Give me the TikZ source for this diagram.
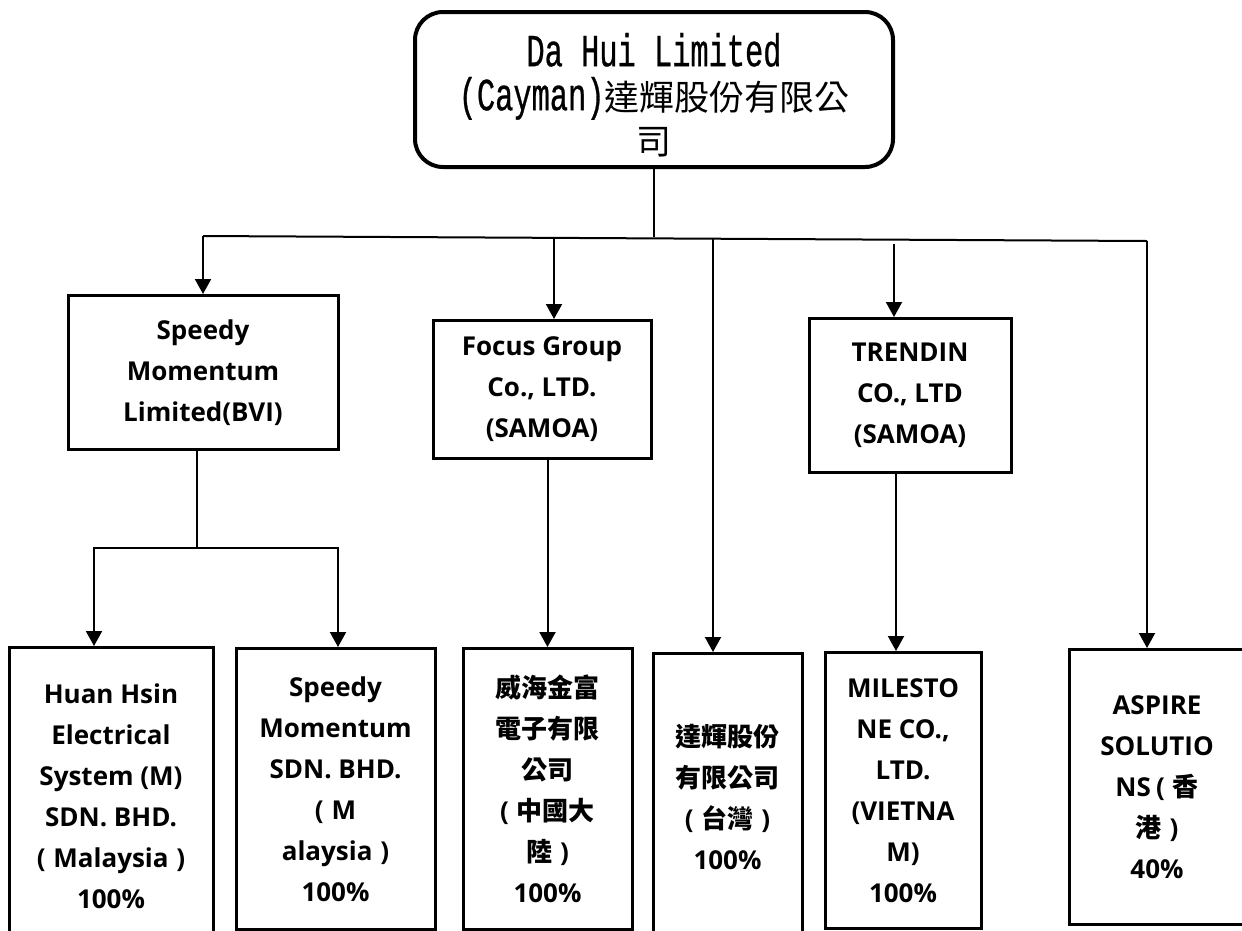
\documentclass[tikz,border=0pt]{standalone}
\usepackage{fontspec}
\usetikzlibrary{arrows.meta}
\newfontfamily\latinbold{Open Sans}
\newfontfamily\cjkfont{Noto Sans CJK TC}
\newfontfamily\toplatin{Liberation Mono}[FakeStretch=0.66, FakeBold=0.6]
\newfontfamily\topcjk{Noto Sans CJK TC}[Scale=0.76]
\newcommand{\zhtxt}[1]{{\cjkfont #1}}
\newcommand{\lpar}{(\hspace{0.3em}}
\newcommand{\rpar}{\hspace{0.3em})}

\tikzset{
  orgbox/.style={draw, line width=3pt, anchor=north, align=center, inner sep=0pt,
    font=\fontsize{26}{41}\selectfont\latinbold\bfseries},
  topbox/.style={draw, line width=4pt, anchor=north, align=center, inner sep=0pt,
    rounded corners=28pt, font=\fontsize{46}{44}\selectfont\toplatin},
  link/.style={line width=2pt},
  linkarrow/.style={link, -{Triangle[width=16pt,length=15pt]}},
}

\begin{document}
\begin{tikzpicture}[x=1pt, y=-1pt]
  \useasboundingbox (0,0) rectangle (1242,930);
  \fill[white] (0,0) rectangle (1242,930);
  \clip (0,0) rectangle (1242,930);

  \node[topbox, minimum width=478pt, minimum height=155pt] (top) at (654,10)
    {\rule{0pt}{44pt}Da Hui Limited\\(Cayman){\topcjk 達輝股份有限公}\\{\topcjk 司}};

  \node[orgbox, minimum width=270pt, minimum height=154pt] (bvi) at (203,294)
    {Speedy\\Momentum\\Limited(BVI)};
  \node[orgbox, minimum width=218pt, minimum height=138pt] (focus) at (542,319)
    {Focus Group\\Co., LTD.\\(SAMOA)};
  \node[orgbox, minimum width=202pt, minimum height=154pt] (trendin) at (910,317)
    {TRENDIN\\CO., LTD\\(SAMOA)};

  \node[orgbox, minimum width=204pt, minimum height=297pt] (huan) at (111,646)
    {Huan Hsin\\Electrical\\System (M)\\SDN. BHD.\\\lpar Malaysia\rpar\\100\%};
  \node[orgbox, minimum width=199pt, minimum height=281pt] (sdn) at (335.5,647)
    {Speedy\\Momentum\\SDN. BHD.\\\lpar M\\alaysia\rpar\\100\%};
  \node[orgbox, minimum width=169pt, minimum height=281pt] (weihai) at (547.5,647)
    {\zhtxt{威海金富}\\\zhtxt{電子有限}\\\zhtxt{公司}\\\lpar\zhtxt{中國大}\\\zhtxt{陸}\rpar\\100\%};
  \node[orgbox, minimum width=149pt, minimum height=286pt] (dahuitw) at (727.5,652)
    {\zhtxt{達輝股份}\\\zhtxt{有限公司}\\\lpar\zhtxt{台灣}\rpar\\100\%};
  \node[orgbox, minimum width=156pt, minimum height=276pt] (milestone) at (903,651)
    {MILESTO\\NE CO.,\\LTD.\\(VIETNA\\M)\\100\%};
  \node[orgbox, minimum width=176pt, minimum height=275pt] (aspire) at (1157,648)
    {ASPIRE\\SOLUTIO\\NS\hspace{0.2em}\lpar\zhtxt{香}\\\zhtxt{港}\rpar\\40\%};

  \coordinate (topjoin) at (654,237);
  \coordinate (busW) at (203,236);
  \coordinate (busE) at (1147,241);
  \coordinate (focusdrop) at (554,237);
  \coordinate (twdrop) at (713,239);
  \coordinate (trendrop) at (894,244);
  \coordinate (bvisplit) at (197,548);
  \coordinate (huanturn) at (94,548);
  \coordinate (sdnturn) at (338,548);
  \coordinate (milestonedrop) at (896,471);

  \draw[link] (top.south) -- (topjoin);
  \draw[link] (busW) -- (busE);
  \draw[linkarrow] (busW) -- (bvi.north);
  \draw[linkarrow] (focusdrop) -- (focusdrop |- focus.north);
  \draw[linkarrow] (twdrop) -- (twdrop |- dahuitw.north);
  \draw[linkarrow] (trendrop) -- (trendrop |- trendin.north);
  \draw[linkarrow] (busE) -- (busE |- aspire.north);

  \draw[link] (bvisplit |- bvi.south) -- (bvisplit);
  \draw[linkarrow] (bvisplit) -- (huanturn) -- (huanturn |- huan.north);
  \draw[linkarrow] (bvisplit) -- (sdnturn) -- (sdnturn |- sdn.north);
  \draw[linkarrow] (weihai.north |- focus.south) -- (weihai.north);
  \draw[linkarrow] (milestonedrop) -- (milestonedrop |- milestone.north);
\end{tikzpicture}
\end{document}
